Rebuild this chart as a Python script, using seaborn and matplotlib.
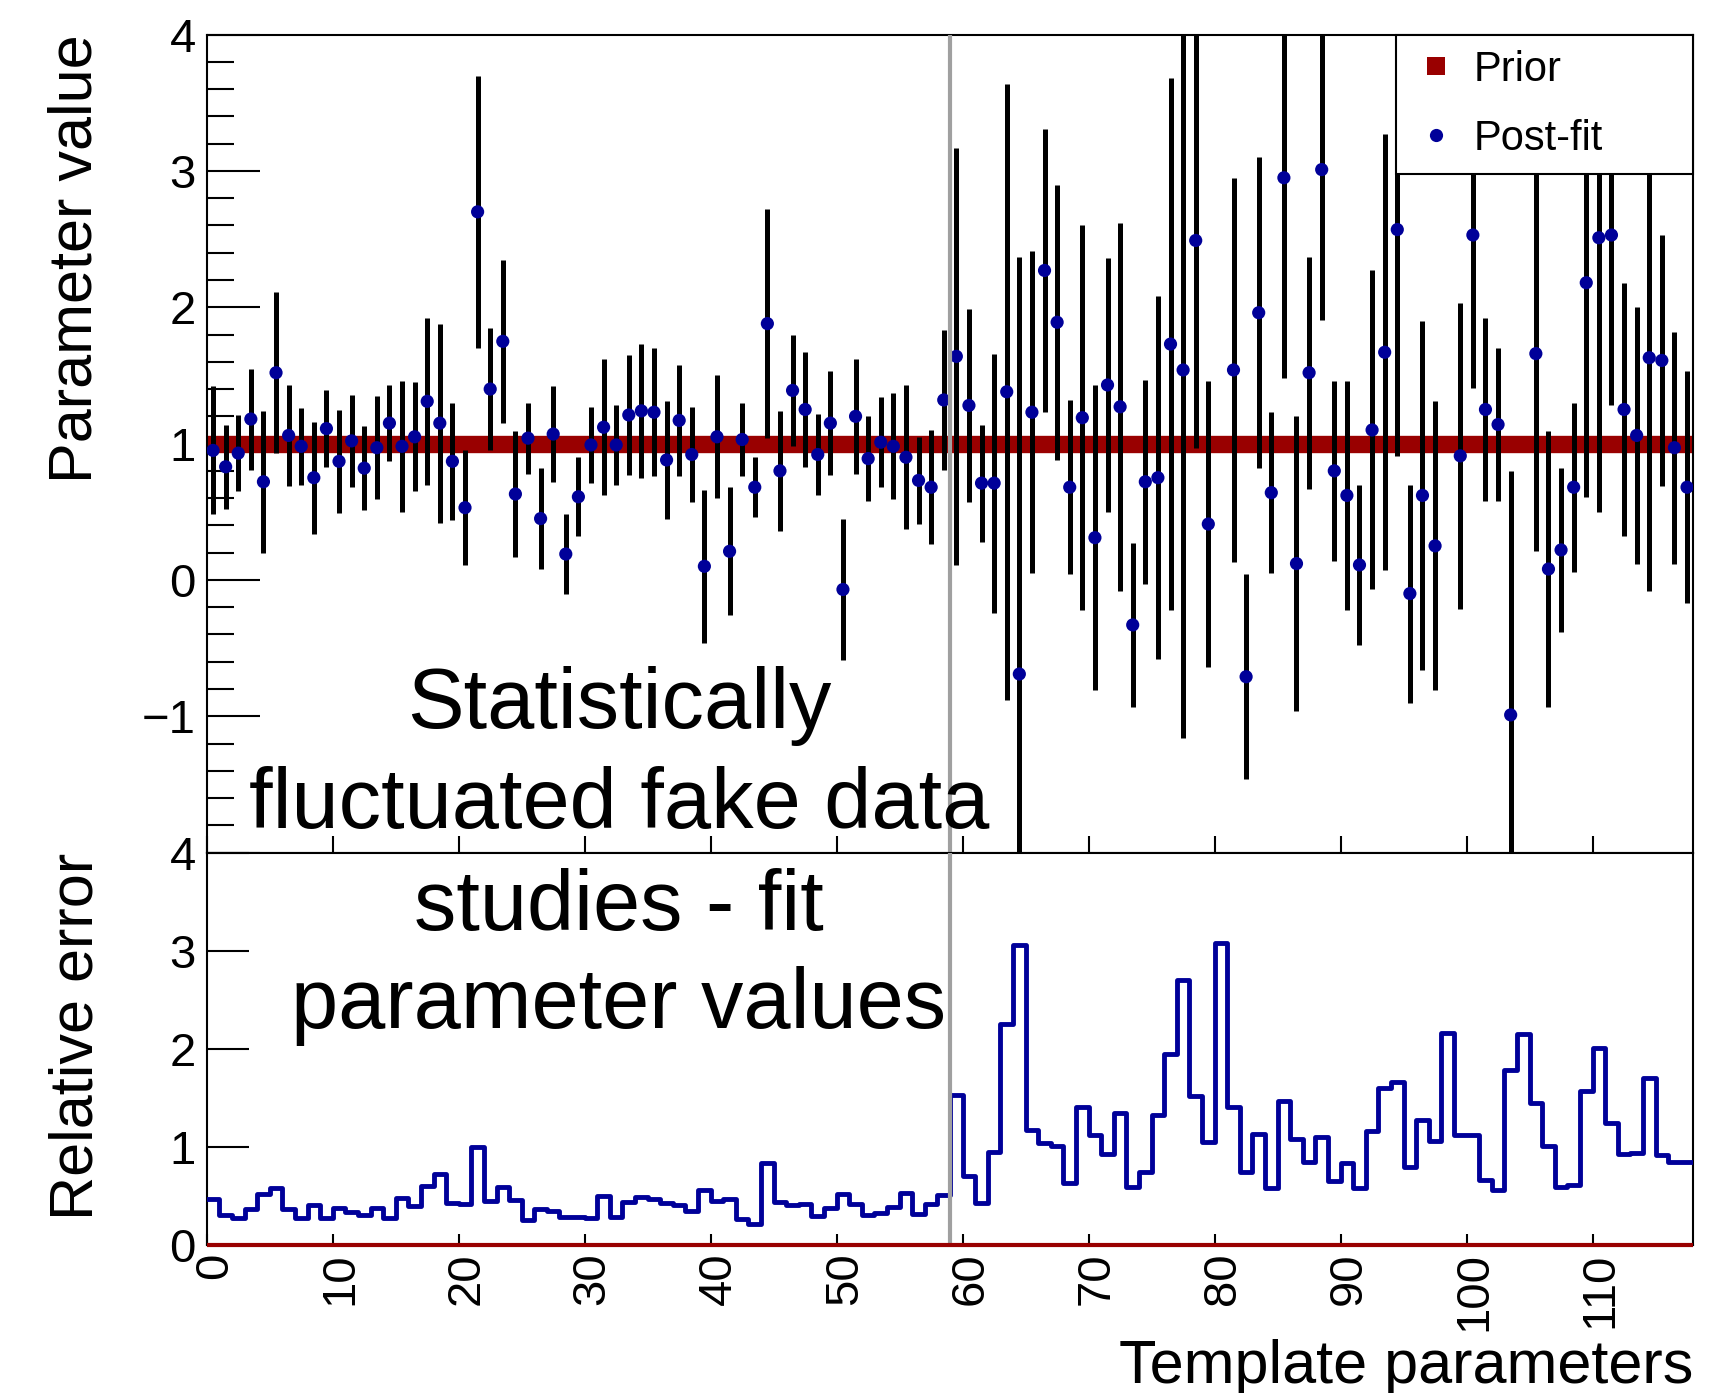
import numpy as np
import pandas as pd
import matplotlib
matplotlib.use("Agg")
import matplotlib.pyplot as plt
from matplotlib.lines import Line2D
from matplotlib.ticker import MultipleLocator
from matplotlib.transforms import ScaledTranslation
import seaborn as sns

# ---------------- data ----------------
post_fit = [
    0.95, 0.83, 0.93, 1.18, 0.72, 1.52, 1.06, 0.98, 0.75, 1.11,
    0.87, 1.02, 0.82, 0.97, 1.15, 0.98, 1.05, 1.31, 1.15, 0.87,
    0.53, 2.70, 1.40, 1.75, 0.63, 1.04, 0.45, 1.07, 0.19, 0.61,
    0.99, 1.12, 0.99, 1.21, 1.24, 1.23, 0.88, 1.17, 0.92, 0.10,
    1.05, 0.21, 1.03, 0.68, 1.88, 0.80, 1.39, 1.25, 0.92, 1.15,
    -0.07, 1.20, 0.89, 1.01, 0.98, 0.90, 0.73, 0.68, 1.32, 1.64,
    1.28, 0.71, 0.71, 1.38, -0.69, 1.23, 2.27, 1.89, 0.68, 1.19,
    0.31, 1.43, 1.27, -0.33, 0.72, 0.75, 1.73, 1.54, 2.49, 0.41,
    np.nan, 1.54, -0.71, 1.96, 0.64, 2.95, 0.12, 1.52, 3.01, 0.80,
    0.62, 0.11, 1.10, 1.67, 2.57, -0.10, 0.62, 0.25, np.nan, 0.91,
    2.53, 1.25, 1.14, -0.99, np.nan, 1.66, 0.08, 0.22, 0.68, 2.18,
    2.51, 2.53, 1.25, 1.06, 1.63, 1.61, 0.97, 0.68,
]
rel_error = [
    0.47, 0.31, 0.28, 0.37, 0.52, 0.59, 0.37, 0.28, 0.41, 0.28,
    0.38, 0.34, 0.31, 0.38, 0.28, 0.48, 0.40, 0.61, 0.73, 0.43,
    0.42, 1.00, 0.45, 0.60, 0.46, 0.26, 0.37, 0.35, 0.29, 0.29,
    0.28, 0.50, 0.29, 0.44, 0.49, 0.47, 0.43, 0.41, 0.35, 0.56,
    0.45, 0.47, 0.27, 0.22, 0.84, 0.44, 0.41, 0.42, 0.30, 0.38,
    0.52, 0.42, 0.31, 0.33, 0.39, 0.53, 0.32, 0.42, 0.51, 1.53,
    0.71, 0.43, 0.95, 2.26, 3.06, 1.18, 1.04, 1.01, 0.64, 1.41,
    1.12, 0.93, 1.35, 0.60, 0.75, 1.33, 1.95, 2.70, 1.52, 1.05,
    3.08, 1.41, 0.75, 1.14, 0.59, 1.47, 1.08, 0.85, 1.10, 0.66,
    0.84, 0.59, 1.17, 1.60, 1.66, 0.80, 1.28, 1.06, 2.16, 1.12,
    1.12, 0.67, 0.56, 1.79, 2.15, 1.45, 1.01, 0.60, 0.62, 1.57,
    2.01, 1.25, 0.93, 0.94, 1.71, 0.92, 0.85, 0.85,
]
prior_value = 1.0
prior_rel_error = 0.0
divider_at = 59
x_ticks = [0, 10, 20, 30, 40, 50, 60, 70, 80, 90, 100, 110]
upper_y_ticks = [-2, -1, 0, 1, 2, 3, 4]
upper_y_labels = ["", "\u22121", "0", "1", "2", "3", "4"]
lower_y_ticks = [0, 1, 2, 3, 4]
overlay_lines = ["Statistically", "fluctuated fake data", "studies - fit", "parameter values"]

n_par = len(post_fit)
df = pd.DataFrame({
    "param": np.arange(n_par) + 0.5,
    "value": post_fit,
    "err": rel_error,
})

# ---------------- style ----------------
sns.set_style("ticks")
plt.rcParams["font.family"] = ["Liberation Sans", "DejaVu Sans"]
plt.rcParams["axes.linewidth"] = 1.5
for key in ["text.color", "axes.labelcolor", "xtick.color", "ytick.color",
            "axes.edgecolor"]:
    plt.rcParams[key] = "black"

RED = "#990000"
BLUE = "#000099"
GREY = "#a0a0a0"

fig = plt.figure(figsize=(17.2, 13.93), dpi=100)
ax1 = fig.add_axes([0.1202, 0.38794, 0.8643, 0.58722])
ax2 = fig.add_axes([0.1202, 0.10589, 0.8643, 0.28205])

# ---------------- upper panel ----------------
ax1.hlines(prior_value, 0, n_par, colors=RED, linewidth=12.5, zorder=2)
ax1.errorbar(df["param"], df["value"], yerr=df["err"], fmt="none",
             ecolor="black", elinewidth=3.6, capsize=0, zorder=3)
sns.scatterplot(data=df, x="param", y="value", ax=ax1, color=BLUE, s=90,
                edgecolor="none", linewidth=0, zorder=4, legend=False)
ax1.axvline(divider_at, color=GREY, lw=3, zorder=5)

ax1.set_xlim(0, n_par)
ax1.set_ylim(-2, 4)
ax1.set_xticks(x_ticks)
ax1.set_yticks(upper_y_ticks)
ax1.set_yticklabels(upper_y_labels)
ax1.yaxis.set_minor_locator(MultipleLocator(0.2))
ax1.tick_params(axis="y", which="major", direction="in", length=38, width=1.5,
                labelsize=34, pad=8, right=False)
ax1.tick_params(axis="y", which="minor", direction="in", length=19.5, width=1.5,
                right=False)
ax1.tick_params(axis="x", which="major", direction="in", length=12, width=1.5,
                labelbottom=False, top=False)
ax1.set_xlabel("")
ax1.set_ylabel("Parameter value", fontsize=44, loc="top")
ax1.yaxis.set_label_coords(-0.0773, 1.0)
ax1.yaxis.label.set_va("baseline")

handles = [
    Line2D([], [], ls="none", marker="s", color=RED, markersize=12.5, markeredgewidth=0),
    Line2D([], [], ls="none", marker="o", color=BLUE, markersize=9.5, markeredgewidth=0),
]
leg = ax1.legend(handles, ["Prior", "Post-fit"], loc="upper left",
                 bbox_to_anchor=(0.8001, 0.8337, 0.1999, 0.1663), mode="expand",
                 borderaxespad=0, fontsize=30, frameon=True, fancybox=False,
                 edgecolor="black", framealpha=1, borderpad=0.36,
                 labelspacing=0.7, handlelength=1.2, handletextpad=0.3)
leg.get_frame().set_linewidth(1.5)
leg.set_zorder(10)

# ---------------- lower panel ----------------
sns.histplot(data=df, x="param", weights="err", bins=n_par, binrange=(0, n_par),
             element="step", fill=False, color=BLUE, linewidth=3.5, ax=ax2, zorder=3)
ax2.hlines(prior_rel_error, 0, n_par, colors=RED, linewidth=3, clip_on=False, zorder=6)
ax2.axvline(divider_at, color=GREY, lw=3, zorder=5)

ax2.set_xlim(0, n_par)
ax2.set_ylim(0, 4)
ax2.set_xticks(x_ticks)
ax2.set_xticklabels([str(t) for t in x_ticks], rotation=90)
ax2.set_yticks(lower_y_ticks)
ax2.tick_params(axis="y", which="major", direction="in", length=30, width=1.5,
                labelsize=34, pad=8, right=False)
ax2.tick_params(axis="x", which="major", direction="in", length=8, width=1.5,
                labelsize=34, pad=5, top=False)
shift = ScaledTranslation(8 / 100, 0, fig.dpi_scale_trans)
for lab in ax2.get_xticklabels():
    lab.set_transform(lab.get_transform() + shift)
ax2.set_ylabel("Relative error", fontsize=44, loc="top")
ax2.yaxis.set_label_coords(-0.0766, 1.0)
ax2.yaxis.label.set_va("baseline")
ax2.set_xlabel("Template parameters", fontsize=44, loc="right")
ax2.xaxis.set_label_coords(1.0, -0.350)
ax2.xaxis.label.set_va("baseline")

# ---------------- overlay text ----------------
for line, ypos in zip(overlay_lines, [0.4774, 0.4056, 0.3324, 0.2620]):
    fig.text(0.3599, ypos, line, ha="center", va="baseline", fontsize=61, zorder=20)

fig.savefig("out.png", dpi=100)
